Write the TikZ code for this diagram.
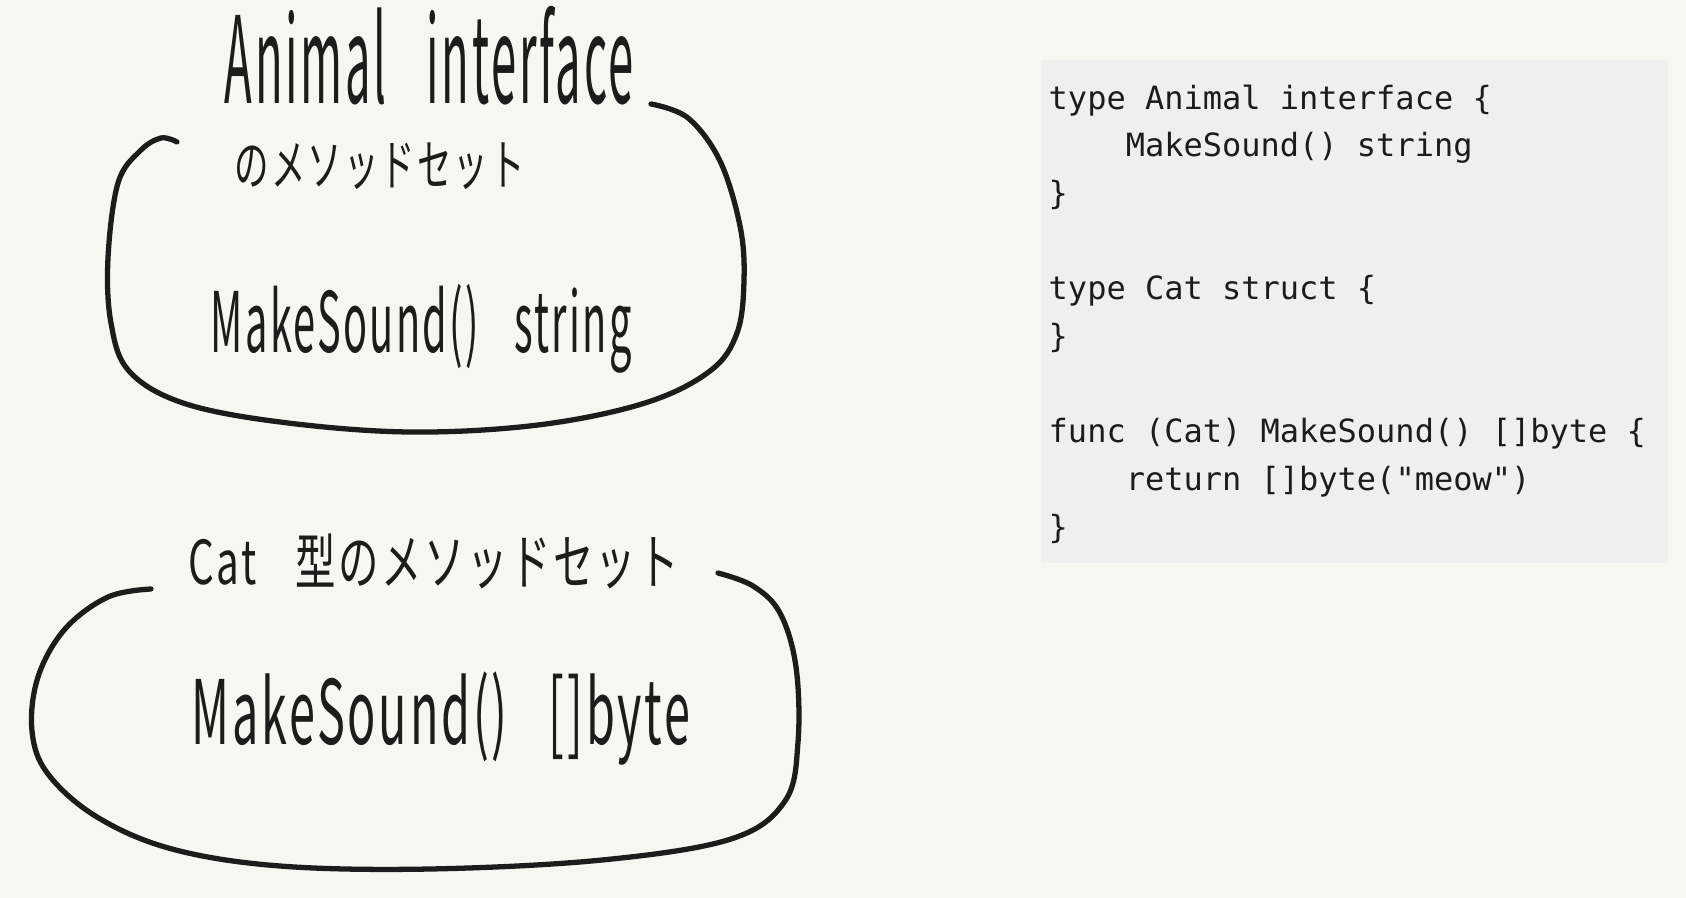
\documentclass[tikz,border=0pt]{standalone}
\usepackage{fontspec}
\usepackage{graphicx}
\setmonofont{DejaVu Sans Mono}
\newfontfamily\jpfont[LetterSpace=6]{Noto Sans CJK JP}
\usetikzlibrary{positioning}
\definecolor{paper}{HTML}{F6F6F2}
\definecolor{codebg}{HTML}{EFEFEF}
\definecolor{ink}{HTML}{1C1C1C}
\newcommand{\tall}[2][1.7]{\scalebox{1}[#1]{#2}}
\newcommand{\ind}{\phantom{xxxx}}
\newcommand{\gap}{\hspace{0.6em}}

\begin{document}
\begin{tikzpicture}[
    x=0.01cm, y=-0.01cm,
    pen/.style={draw=ink, line width=1.5pt, line cap=round, line join=round},
    hand/.style={anchor=base west, inner sep=0pt, text=ink, font=\jpfont\fontsize{#1}{#1}\selectfont},
    codebox/.style={anchor=north west, fill=codebg, minimum width=6.27cm, minimum height=5.03cm, inner sep=0pt},
    codetext/.style={anchor=north west, inner sep=0pt, align=left, text=ink, font=\ttfamily\fontsize{9.1}{13.55}\selectfont}
]

% paper
\fill[paper] (0,0) rectangle (1686,898);

% Animal interface method set
\node[hand=12.9] (animal) at (224,104) {\tall[2.65]{Animal \gap interface}};
\node[hand=9.8] (animalset) at (234,186) {\tall[1.6]{のメソッドセット}};
\node[hand=11.3] (animalm) at (210,353) {\tall[2.1]{MakeSound() \gap string}};
\draw[pen] plot[smooth, tension=0.6] coordinates {(651,104) (688,118) (720,161) (740,226) (744,280) (737,333) (710,371) (645,403) (538,425) (409,432) (280,422) (183,403) (129,371) (111,323) (108,258) (118,183) (140,151) (161,138) (177,142)};

% Cat method set
\node[hand=11.5] (cat) at (188,584) {\tall[1.5]{Cat \hspace{0.4em} 型のメソッドセット}};
\node[hand=13.3] (catm) at (191,744) {\tall[1.9]{MakeSound() \gap []byte}};
\draw[pen] plot[smooth, tension=0.6] coordinates {(151,589) (108,597) (65,629) (38,677) (32,731) (48,774) (97,817) (172,849) (280,866) (430,869) (602,860) (731,839) (785,801) (798,742) (796,667) (780,613) (753,586) (718,573)};

% Go source
\node[codebox] (codebg) at (1040,59) {};
\node[codetext] (code) at (1048,84) {type Animal interface \{\\
\ind MakeSound() string\\
\}\\[13.55pt]
type Cat struct \{\\
\}\\[13.55pt]
func (Cat) MakeSound() []byte \{\\
\ind return []byte("meow")\\
\}};

\end{tikzpicture}
\end{document}
